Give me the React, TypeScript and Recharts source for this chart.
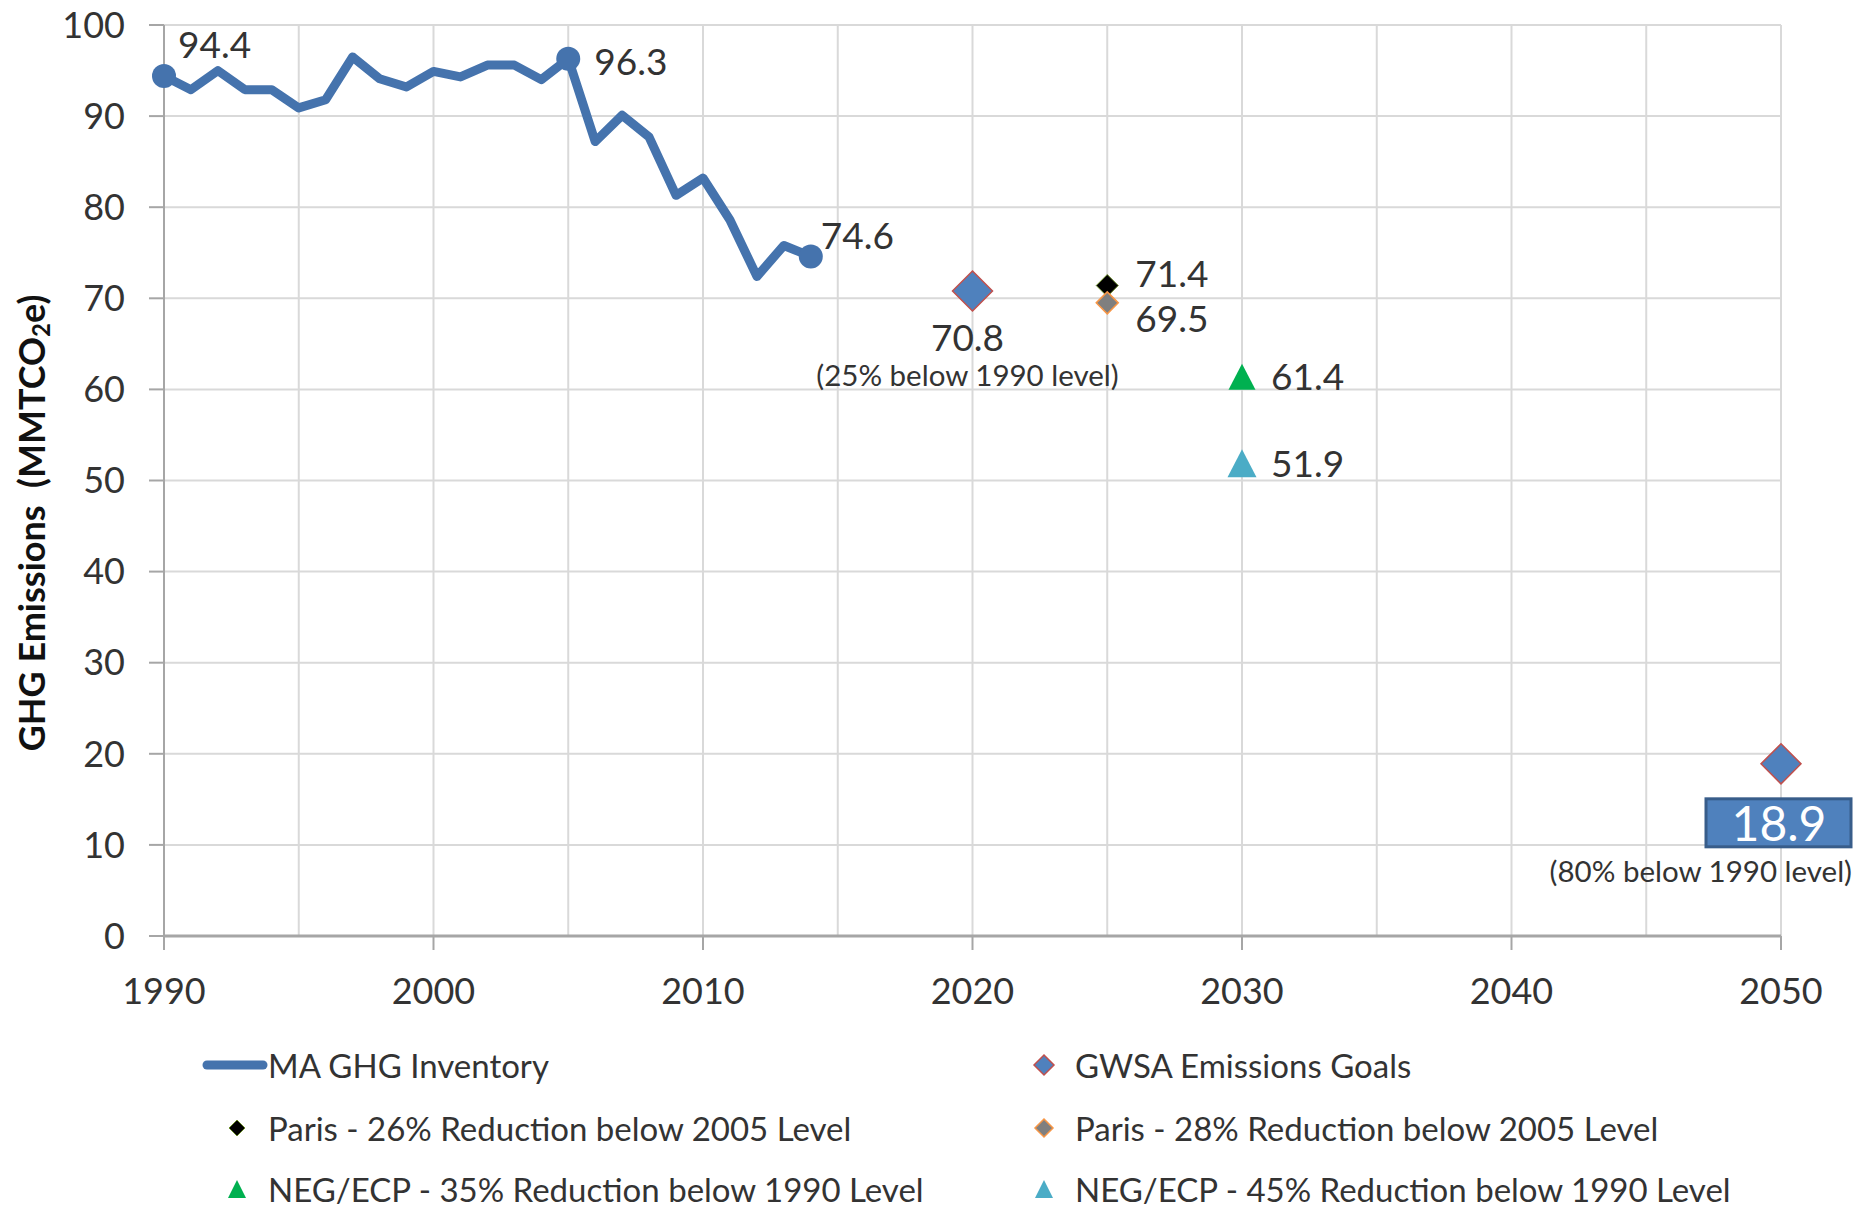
import { CartesianGrid, ComposedChart, LabelList, Legend, Line, Scatter, XAxis, YAxis } from "recharts";

const years = [1990, 1991, 1992, 1993, 1994, 1995, 1996, 1997, 1998, 1999, 2000, 2001, 2002, 2003, 2004, 2005, 2006, 2007, 2008, 2009, 2010, 2011, 2012, 2013, 2014];
const emissions = [94.4, 92.9, 95.0, 92.9, 92.9, 90.9, 91.8, 96.5, 94.1, 93.2, 94.9, 94.3, 95.6, 95.6, 94.0, 96.3, 87.2, 90.1, 87.7, 81.3, 83.2, 78.6, 72.4, 75.8, 74.6];
const markedYears = [1990, 2005, 2014];

const gwsaGoals = [
  { year: 2020, value: 70.8 },
  { year: 2050, value: 18.9 },
];
const gwsaNotes = ["(25% below 1990 level)", "(80% below 1990 level)"];
const paris26 = [{ year: 2025, value: 71.4 }];
const paris28 = [{ year: 2025, value: 69.5 }];
const negEcp35 = [{ year: 2030, value: 61.4 }];
const negEcp45 = [{ year: 2030, value: 51.9 }];

const seriesNames = [
  "MA GHG Inventory",
  "GWSA Emissions Goals",
  "Paris - 26% Reduction below 2005 Level",
  "Paris - 28% Reduction below 2005 Level",
  "NEG/ECP - 35% Reduction below 1990 Level",
  "NEG/ECP - 45% Reduction below 1990 Level",
];

const xTicks = [1990, 1995, 2000, 2005, 2010, 2015, 2020, 2025, 2030, 2035, 2040, 2045, 2050];
const yTicks = [0, 10, 20, 30, 40, 50, 60, 70, 80, 90, 100];

const inventory = years.map((year, i) => ({ year, value: emissions[i] }));

const FONT = "Lato, 'Open Sans', sans-serif";
const TEXT = "#333";
const BLUE = "#4573ad";

const diamond = (cx: number, cy: number, r: number) =>
  `${cx},${cy - r} ${cx + r},${cy} ${cx},${cy + r} ${cx - r},${cy}`;
const triangle = (cx: number, cy: number, w: number, h: number) =>
  `${cx},${cy - h / 2} ${cx + w / 2},${cy + h / 2} ${cx - w / 2},${cy + h / 2}`;

const center = (p: any) => ({
  cx: Number(p.x) + (Number(p.width) || 0) / 2,
  cy: Number(p.y) + (Number(p.height) || 0) / 2,
});

const XTick = (props: any) => {
  const { x, y, payload } = props;
  if (payload.value % 10 !== 0) return <g />;
  return (
    <g>
      <line x1={x} x2={x} y1={y} y2={y + 14} stroke="#a6a6a6" strokeWidth={2} />
      <text x={x} y={y + 54} textAnchor="middle" dominantBaseline="central" fontFamily={FONT} fontSize={36} fill={TEXT}>
        {payload.value}
      </text>
    </g>
  );
};

const YTitle = () => (
  <text
    transform="translate(31, 523) rotate(-90)"
    textAnchor="middle"
    dominantBaseline="central"
    fontFamily={FONT}
    fontWeight="bold"
    fontSize={36}
    fill="#111"
  >
    GHG Emissions{"\u00a0\u00a0"}(MMTCO
    <tspan fontSize={24} dy={9}>2</tspan>
    <tspan dy={-9}>e)</tspan>
  </text>
);

const InventoryLabel = (props: any) => {
  const year = years[props.index];
  if (!markedYears.includes(year)) return null;
  const { cx, cy } = center(props);
  const offsets: Record<number, [number, number]> = { 1990: [14, -33], 2005: [26, 2], 2014: [10, -22] };
  const [dx, dy] = offsets[year];
  return (
    <text x={cx + dx} y={cy + dy} dominantBaseline="central" fontFamily={FONT} fontSize={37} fill={TEXT}>
      {props.value}
    </text>
  );
};

const GoalLabel = (props: any) => {
  const { cx, cy } = center(props);
  const note = gwsaNotes[props.index];
  if (props.index === 0) {
    return (
      <g fontFamily={FONT} fill={TEXT}>
        <text x={cx - 5} y={cy + 45} textAnchor="middle" dominantBaseline="central" fontSize={37}>
          {props.value}
        </text>
        <text x={cx - 5} y={cy + 83} textAnchor="middle" dominantBaseline="central" fontSize={29.5}>
          {note}
        </text>
      </g>
    );
  }
  return (
    <g fontFamily={FONT}>
      <rect x={cx - 75} y={cy + 35} width={145} height={48} fill="#4f81bd" stroke="#385d8a" strokeWidth={3} />
      <text x={cx - 2} y={cy + 59} textAnchor="middle" dominantBaseline="central" fontSize={48} fill="#fff">
        {props.value}
      </text>
      <text x={cx + 71} y={cy + 107} textAnchor="end" dominantBaseline="central" fontSize={29.5} fill={TEXT}>
        {note}
      </text>
    </g>
  );
};

const sideLabel = (dx: number, dy: number) => (props: any) => {
  const { cx, cy } = center(props);
  return (
    <text x={cx + dx} y={cy + dy} dominantBaseline="central" fontFamily={FONT} fontSize={37} fill={TEXT}>
      {props.value}
    </text>
  );
};

const LegendBlock = () => {
  const textX = [268, 1075];
  const iconX = [237, 1044];
  const rowY = [30, 93, 154];
  const icons = [
    (x: number, y: number) => <line x1={207} x2={263} y1={y} y2={y} stroke={BLUE} strokeWidth={9} strokeLinecap="round" />,
    (x: number, y: number) => <polygon points={diamond(x, y, 10)} fill="#4f81bd" stroke="#c0504d" strokeWidth={1.5} />,
    (x: number, y: number) => <polygon points={diamond(x, y, 8)} fill="#000" stroke="#6a8a2a" strokeWidth={1} />,
    (x: number, y: number) => <polygon points={diamond(x, y, 9)} fill="#7f7f7f" stroke="#f79646" strokeWidth={1.5} />,
    (x: number, y: number) => <polygon points={triangle(x, y, 18, 18)} fill="#00b050" />,
    (x: number, y: number) => <polygon points={triangle(x, y, 18, 18)} fill="#4bacc6" />,
  ];
  return (
    <svg width={1858} height={174} style={{ display: "block" }}>
      {seriesNames.map((name, i) => {
        const col = i % 2;
        const y = rowY[Math.floor(i / 2)];
        return (
          <g key={name}>
            {icons[i](iconX[col], y)}
            <text x={textX[col]} y={y} dominantBaseline="central" fontFamily={FONT} fontSize={33} fill={TEXT}>
              {name}
            </text>
          </g>
        );
      })}
    </svg>
  );
};

export default function App() {
  return (
    <div style={{ position: "absolute", left: 0, top: 0, width: 1858, height: 1209, background: "#fff" }}>
      <ComposedChart width={1858} height={1209} margin={{ top: 25, right: 77, bottom: 0, left: 0 }}>
        <CartesianGrid stroke="#d9d9d9" strokeWidth={2} />
        <XAxis
          dataKey="year"
          type="number"
          domain={[1990, 2050]}
          ticks={xTicks}
          interval={0}
          height={99}
          tickSize={0}
          tickMargin={0}
          tickLine={false}
          axisLine={{ stroke: "#a6a6a6", strokeWidth: 3 }}
          tick={<XTick />}
        />
        <YAxis
          type="number"
          domain={[0, 100]}
          ticks={yTicks}
          interval={0}
          width={164}
          tickSize={15}
          tickMargin={24}
          axisLine={{ stroke: "#a6a6a6", strokeWidth: 2 }}
          tickLine={{ stroke: "#a6a6a6", strokeWidth: 2 }}
          tick={{ fontFamily: FONT, fontSize: 36, fill: TEXT }}
          label={{ content: () => <YTitle /> }}
        />
        <Legend
          verticalAlign="bottom"
          content={() => <LegendBlock />}
          wrapperStyle={{ left: 0, bottom: 0, width: 1858, height: 174 }}
        />
        <Line
          data={inventory}
          dataKey="value"
          name={seriesNames[0]}
          stroke={BLUE}
          strokeWidth={9}
          strokeLinejoin="round"
          isAnimationActive={false}
          dot={(p: any) =>
            markedYears.includes(p.payload.year) ? (
              <circle key={`d${p.index}`} cx={p.cx} cy={p.cy} r={12} fill={BLUE} />
            ) : (
              <g key={`d${p.index}`} />
            )
          }
          activeDot={false}
        >
          <LabelList dataKey="value" content={<InventoryLabel />} />
        </Line>
        <Scatter
          data={gwsaGoals}
          dataKey="value"
          name={seriesNames[1]}
          isAnimationActive={false}
          shape={(p: any) => <polygon points={diamond(p.cx, p.cy, 20)} fill="#4f81bd" stroke="#c0504d" strokeWidth={1.5} />}
        >
          <LabelList dataKey="value" content={<GoalLabel />} />
        </Scatter>
        <Scatter
          data={paris26}
          dataKey="value"
          name={seriesNames[2]}
          isAnimationActive={false}
          shape={(p: any) => <polygon points={diamond(p.cx, p.cy, 11)} fill="#000" stroke="#6a8a2a" strokeWidth={1} />}
        >
          <LabelList dataKey="value" content={sideLabel(28, -13)} />
        </Scatter>
        <Scatter
          data={paris28}
          dataKey="value"
          name={seriesNames[3]}
          isAnimationActive={false}
          shape={(p: any) => <polygon points={diamond(p.cx, p.cy, 11)} fill="#7f7f7f" stroke="#f79646" strokeWidth={1.5} />}
        >
          <LabelList dataKey="value" content={sideLabel(28, 15)} />
        </Scatter>
        <Scatter
          data={negEcp35}
          dataKey="value"
          name={seriesNames[4]}
          isAnimationActive={false}
          shape={(p: any) => <polygon points={triangle(p.cx, p.cy, 27, 26)} fill="#00b050" />}
        >
          <LabelList dataKey="value" content={sideLabel(29, -1)} />
        </Scatter>
        <Scatter
          data={negEcp45}
          dataKey="value"
          name={seriesNames[5]}
          isAnimationActive={false}
          shape={(p: any) => <polygon points={triangle(p.cx, p.cy, 29, 28)} fill="#4bacc6" />}
        >
          <LabelList dataKey="value" content={sideLabel(29, -1)} />
        </Scatter>
      </ComposedChart>
    </div>
  );
}
